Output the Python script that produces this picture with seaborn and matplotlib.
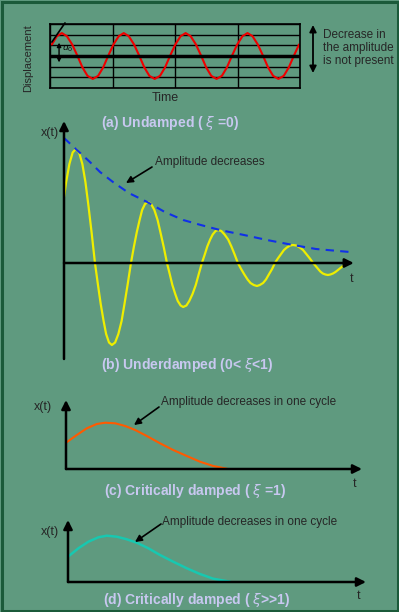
import numpy as np
import seaborn as sns
import matplotlib.pyplot as plt
from matplotlib.patches import Rectangle

sns.set_style("white")
plt.rcParams['font.family'] = ['Liberation Sans', 'DejaVu Sans']

W, H = 399, 612
bg = "#5f9a7f"
title_col = "#c8c8f0"

# (a) undamped - time in grid columns, displacement in grid rows
t_a = [0.03, 0.11, 0.19, 0.27, 0.355, 0.44, 0.52, 0.60, 0.685, 0.77, 0.85, 0.93,
       1.015, 1.10, 1.18, 1.26, 1.345, 1.43, 1.51, 1.59, 1.675, 1.76, 1.84, 1.92,
       2.005, 2.09, 2.17, 2.25, 2.335, 2.42, 2.50, 2.58, 2.665, 2.75, 2.83, 2.91,
       2.995, 3.08, 3.16, 3.24, 3.325, 3.41, 3.49, 3.57, 3.655, 3.74, 3.82, 3.90,
       3.985]
x_a = [1.08, 1.86, 2.15, 1.86, 1.08, 0, -1.08, -1.86, -2.15, -1.86, -1.08, 0,
       1.08, 1.86, 2.15, 1.86, 1.08, 0, -1.08, -1.86, -2.15, -1.86, -1.08, 0,
       1.08, 1.86, 2.15, 1.86, 1.08, 0, -1.08, -1.86, -2.15, -1.86, -1.08, 0,
       1.08, 1.86, 2.15, 1.86, 1.08, 0, -1.08, -1.86, -2.15, -1.86, -1.08, 0,
       1.08]
tangent_t = [0.03, 0.24]
tangent_x = [1.31, 3.1]

# (b) underdamped
t_b = [0, 0.06, 0.15, 0.24, 0.33, 0.42, 0.51, 0.595, 0.68, 0.77, 0.86,
       0.94, 1.02, 1.10, 1.17, 1.25, 1.33, 1.42, 1.51, 1.60, 1.68, 1.77, 1.86,
       1.94, 2.02, 2.10, 2.17, 2.25, 2.33, 2.42, 2.51, 2.60, 2.68, 2.77, 2.86,
       2.94, 3.01, 3.09, 3.16, 3.24, 3.31, 3.40, 3.48, 3.57, 3.66, 3.74, 3.83,
       3.91, 3.98, 4.06, 4.13, 4.21, 4.28, 4.37, 4.46, 4.56, 4.65, 4.74, 4.83,
       4.92, 5.01, 5.10, 5.18, 5.27, 5.36, 5.44, 5.53, 5.61, 5.69, 5.78, 5.86,
       5.94, 6.03, 6.11, 6.19, 6.28, 6.36, 6.45, 6.55, 6.64, 6.73, 6.83, 6.92,
       6.99, 7.06, 7.12, 7.19, 7.26, 7.33, 7.40, 7.47, 7.54, 7.61, 7.68, 7.75]
x_b = [6.6, 8.1, 9.9, 11.05, 11.4, 11.05, 9.9, 8.1, 5.7, 2.95, 0,
       -2.1, -4.1, -5.8, -7.1, -7.95, -8.2, -7.95, -7.1, -5.8, -4.1, -2.1, 0,
       1.6, 3.05, 4.3, 5.3, 5.9, 6.1, 5.9, 5.3, 4.3, 3.05, 1.6, 0,
       -1.15, -2.2, -3.1, -3.8, -4.25, -4.4, -4.25, -3.8, -3.1, -2.2, -1.15, 0,
       0.85, 1.65, 2.35, 2.85, 3.2, 3.3, 3.2, 2.85, 2.35, 1.65, 0.85, 0,
       -0.6, -1.15, -1.65, -2.0, -2.2, -2.3, -2.2, -2.0, -1.65, -1.15, -0.6, 0,
       0.45, 0.9, 1.3, 1.55, 1.75, 1.8, 1.75, 1.55, 1.3, 0.9, 0.45, 0,
       -0.3, -0.6, -0.85, -1.05, -1.15, -1.2, -1.15, -1.05, -0.9, -0.7, -0.5, -0.3]
env_t = [0, 0.33, 0.72, 1.0, 1.36, 1.8, 2.31, 2.8, 3.31, 3.8, 4.33, 5.0,
         5.64, 6.36, 7.0, 7.94]
env_x = [12.5, 11.4, 10.1, 9.1, 8.1, 7.0, 6.1, 5.1, 4.3, 3.8, 3.3, 2.8,
         2.3, 1.8, 1.4, 1.1]

# (c) critically damped
t_c = [0, 0.27, 0.52, 0.77, 0.98, 1.23, 1.48, 1.73, 2.02, 2.35, 2.68, 3.02,
       3.35, 3.68, 4.02]
x_c = [2.63, 3.4, 4.07, 4.5, 4.63, 4.57, 4.3, 3.9, 3.3, 2.57, 1.9, 1.3,
       0.73, 0.3, 0.03]

# (d) overdamped
t_d = [0, 0.26, 0.51, 0.76, 0.97, 1.22, 1.47, 1.72, 2.01, 2.3, 2.63, 2.97,
       3.3, 3.63, 4.05]
x_d = [2.53, 3.37, 4.03, 4.47, 4.63, 4.53, 4.27, 3.93, 3.37, 2.7, 2.03, 1.37,
       0.8, 0.33, 0.03]

fig = plt.figure(figsize=(W / 100, H / 100), dpi=100)
fig.patch.set_facecolor(bg)


def panel(left, right, top, bottom):
    ax = fig.add_axes([left / W, 1 - bottom / H, (right - left) / W, (bottom - top) / H])
    ax.set_facecolor("none")
    return ax


def bare(ax):
    for s in ax.spines.values():
        s.set_visible(False)
    ax.set_xticks([])
    ax.set_yticks([])


def arrow_axes(ax, x_end, y_bottom, y_top):
    ap = dict(arrowstyle="-|>", color="black", lw=1.8, mutation_scale=13,
              shrinkA=0, shrinkB=0)
    ax.annotate("", xy=(x_end, 0), xytext=(0, 0), arrowprops=ap, annotation_clip=False)
    ax.annotate("", xy=(0, y_top), xytext=(0, y_bottom), arrowprops=ap,
                annotation_clip=False)


# panel a
ax_a = panel(50, 300, 24, 88)
sns.lineplot(x=t_a, y=x_a, ax=ax_a, color="#f00000", lw=1.5, estimator=None, sort=False)
ax_a.plot(tangent_t, tangent_x, color="black", lw=1.2, clip_on=False)
ax_a.set_xlim(0, 4)
ax_a.set_ylim(-3, 3)
ax_a.set_xticks([0, 1, 2, 3, 4])
ax_a.set_yticks([-3, -2, -1, 0, 1, 2, 3])
ax_a.set_xticklabels([])
ax_a.set_yticklabels([])
ax_a.tick_params(length=0)
ax_a.grid(True, color="black", lw=1)
ax_a.axhline(0, color="black", lw=2.5)
for s in ax_a.spines.values():
    s.set_color("black")
    s.set_linewidth(1.2)
ax_a.annotate("", xy=(0.145, 1.25), xytext=(0.145, -0.6),
              arrowprops=dict(arrowstyle="<|-|>", color="black", lw=1,
                              mutation_scale=6, shrinkA=0, shrinkB=0))
ax_a.text(0.19, 0.65, r"$u_0$", fontsize=6.5, color="black", ha="left", va="center")

# panel b
ax_b = panel(64, 364, 118, 363)
sns.lineplot(x=t_b, y=x_b, ax=ax_b, color="#eeee00", lw=1.6, estimator=None, sort=False)
sns.lineplot(x=env_t, y=env_x, ax=ax_b, color="#1030e8", lw=1.5, estimator=None,
             sort=False, linestyle=(0, (4, 3)))
ax_b.set_xlim(0, 300 / 36)
ax_b.set_ylim(-10, 14.5)
bare(ax_b)
arrow_axes(ax_b, 8.05, -9.6, 14.2)

# panel c
ax_c = panel(66, 370, 395, 475)
sns.lineplot(x=t_c, y=x_c, ax=ax_c, color="#ff5a00", lw=1.5, estimator=None, sort=False)
ax_c.set_xlim(0, 7.6)
ax_c.set_ylim(-0.6, 7.4)
bare(ax_c)
arrow_axes(ax_c, 7.4, 0, 6.9)

# panel d
ax_d = panel(68, 372, 515, 588)
sns.lineplot(x=t_d, y=x_d, ax=ax_d, color="#18c8b0", lw=1.8, estimator=None, sort=False)
ax_d.set_xlim(0, 7.6)
ax_d.set_ylim(-0.6, 6.7)
bare(ax_d)
arrow_axes(ax_d, 7.45, 0, 6.2)

# overlay for labels and pointer arrows (pixel coordinates)
ov = fig.add_axes([0, 0, 1, 1], zorder=5)
ov.set_xlim(0, W)
ov.set_ylim(H, 0)
ov.axis("off")
ov.add_patch(Rectangle((1.5, 1.5), W - 3, H - 3, fill=False, edgecolor="#1b5a3a", lw=2.2))

ov.text(28, 58, "Displacement", rotation=90, fontsize=8, ha="center", va="center")
ov.text(165, 98, "Time", fontsize=9, ha="center", va="center")
ov.annotate("", xy=(313, 25), xytext=(313, 73),
            arrowprops=dict(arrowstyle="<|-|>", color="black", lw=1.3,
                            mutation_scale=10, shrinkA=0, shrinkB=0))
ov.text(323, 48, "Decrease in\nthe amplitude\nis not present", fontsize=8.5,
        ha="left", va="center", linespacing=1.15)

pointer = dict(arrowstyle="-|>", color="black", lw=1.2, mutation_scale=10,
               shrinkA=0, shrinkB=0)
ov.text(50, 133, "x(t)", fontsize=9, ha="center", va="center")
ov.text(352, 279, "t", fontsize=9, ha="center", va="center")
ov.text(155, 162, "Amplitude decreases", fontsize=8.5, ha="left", va="center")
ov.annotate("", xy=(126, 183), xytext=(152, 167), arrowprops=pointer)

ov.text(43, 407, "x(t)", fontsize=9, ha="center", va="center")
ov.text(355, 484, "t", fontsize=9, ha="center", va="center")
ov.text(161, 402, "Amplitude decreases in one cycle", fontsize=8.5, ha="left", va="center")
ov.annotate("", xy=(134, 425), xytext=(159, 407), arrowprops=pointer)

ov.text(50, 532, "x(t)", fontsize=9, ha="center", va="center")
ov.text(359, 596, "t", fontsize=9, ha="center", va="center")
ov.text(162, 522, "Amplitude decreases in one cycle", fontsize=8.5, ha="left", va="center")
ov.annotate("", xy=(135, 542), xytext=(161, 524), arrowprops=pointer)

titles = [(170, 123, r"(a) Undamped ( $\xi$ =0)"),
          (187, 365, r"(b) Underdamped (0< $\xi$<1)"),
          (195, 491, r"(c) Critically damped ( $\xi$ =1)"),
          (197, 600, r"(d) Critically damped ( $\xi$>>1)")]
for tx, ty, s in titles:
    ov.text(tx, ty, s, fontsize=10, fontweight="bold", color=title_col,
            ha="center", va="center")

fig.savefig("out.png", dpi=100, facecolor=bg)
